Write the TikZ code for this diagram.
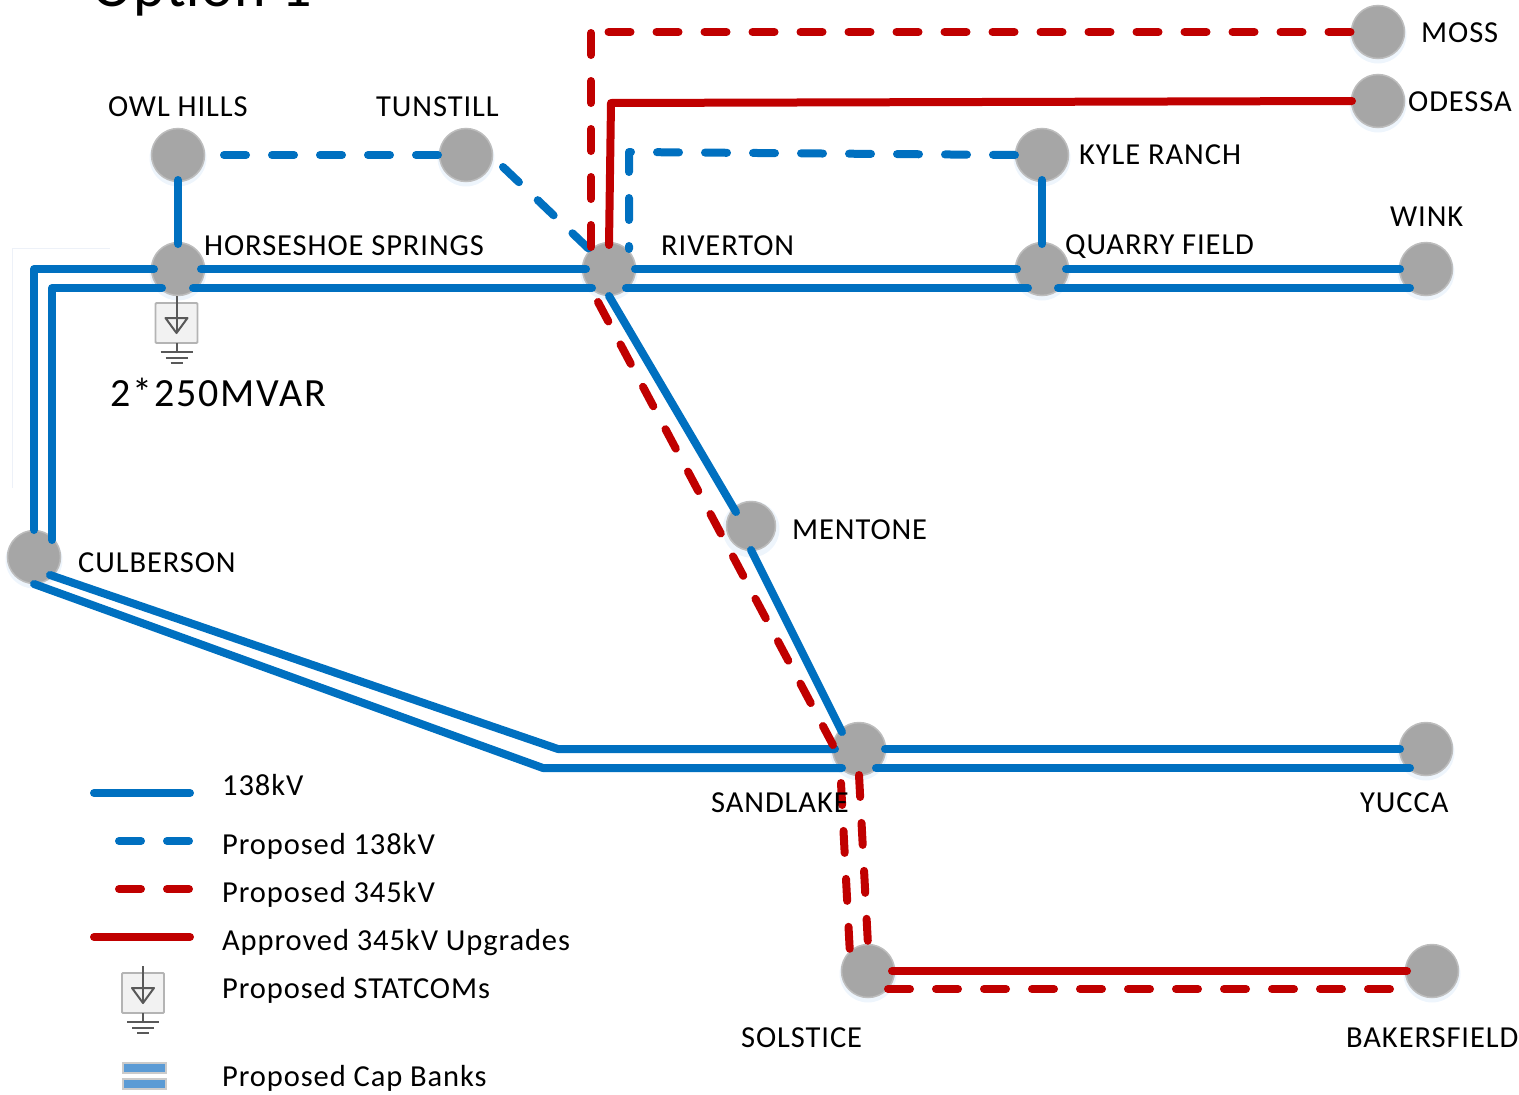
\documentclass[tikz,border=0pt]{standalone}
\usepackage{fontspec}
\setmainfont[LetterSpace=3]{Carlito}
\newfontfamily\titlefont[LetterSpace=2.7]{Carlito}
\newfontfamily\mvarfont[LetterSpace=4.6]{Carlito}
\usetikzlibrary{calc}
\definecolor{lblue}{HTML}{0070C0}
\definecolor{lred}{HTML}{C00000}
\definecolor{busgray}{HTML}{A6A6A6}
\definecolor{busedge}{HTML}{BDBDBD}
\definecolor{glow}{HTML}{EEF5FC}
\definecolor{iconline}{HTML}{595959}
\definecolor{iconedge}{HTML}{B4B4B4}
\definecolor{capfill}{HTML}{5B9BD5}
\definecolor{faint}{HTML}{EDF1F8}
\tikzset{
  bus/.style={circle,fill=busgray,draw=busedge,line width=1.5pt,minimum size=53pt,inner sep=0pt},
  halo/.style={fill=glow,draw=none},
  lbl/.style={anchor=base west,inner sep=0pt,font=\fontsize{30.5}{36}\selectfont,text=black},
  blueline/.style={draw=lblue,line width=8pt,line cap=round,line join=round},
  redline/.style={draw=lred,line width=8pt,line cap=round,line join=round},
  bluedash/.style={blueline,dash pattern=on 22pt off 26pt},
  reddash/.style={redline,dash pattern=on 22pt off 26pt},
  statcom/.pic={
    \path[fill=white!95!black,draw=iconedge,line width=1.8pt,rounded corners=1pt] (-21,-17) rectangle (21,23);
    \draw[iconline,line width=2pt] (0,-24) -- (0,13);
    \draw[iconline,line width=2pt,line join=round] (-11,-2) -- (11,-2) -- (0,13) -- cycle;
    \draw[iconline,line width=2pt] (0,23) -- (0,32);
    \draw[iconline,line width=2pt] (-16,32) -- (16,32) (-11,38) -- (11,38) (-6,43) -- (6,43);
  }
}
\begin{document}
\begin{tikzpicture}[x=1pt,y=-1pt]
\useasboundingbox (0,0) rectangle (1519,1095);
\clip (0,0) rectangle (1519,1095);
% faint frame
\draw[faint,line width=1pt] (110,248) -- (12,248) -- (12,488);
% halos
\foreach \x/\y in {178/155,466/155,178/269,609/269,1042/155,1042/269,1426/269,1378/32,1378/101,751/526,34/557,859/749,1426/749,868/971,1432/971}
  \fill[halo] (\x,\y+3) circle (28.5);
% buses
\node[bus] (owl) at (178,155) {};
\node[bus] (tun) at (466,155) {};
\node[bus] (hor) at (178,269) {};
\node[bus] (riv) at (609,269) {};
\node[bus] (kyl) at (1042,155) {};
\node[bus] (qua) at (1042,269) {};
\node[bus] (win) at (1426,269) {};
\node[bus] (mos) at (1378,32) {};
\node[bus] (ode) at (1378,101) {};
\node[bus,minimum size=49pt] (men) at (751,526) {};
\node[bus] (cul) at (34,557) {};
\node[bus] (san) at (859,749) {};
\node[bus] (yuc) at (1426,749) {};
\node[bus] (sol) at (868,971) {};
\node[bus] (bak) at (1432,971) {};
% 138 kV
\draw[blueline] ($(owl)+(0,25)$) -- ($(hor)+(0,-25)$);
\draw[blueline] ($(hor)+(23,0)$) -- ($(riv)+(-23,0)$);
\draw[blueline] ($(hor)+(15,19)$) -- ($(riv)+(-17,19)$);
\draw[blueline] ($(hor)+(-24,0)$) -- (34,269) -- ($(cul)+(0,-27)$);
\draw[blueline] ($(hor)+(-16,19)$) -- (52,288) -- ($(cul)+(18,-17)$);
\draw[blueline] ($(riv)+(26,0)$) -- ($(qua)+(-25,0)$);
\draw[blueline] ($(riv)+(17,19)$) -- ($(qua)+(-14,19)$);
\draw[blueline] ($(qua)+(24,0)$) -- ($(win)+(-26,0)$);
\draw[blueline] ($(qua)+(16,19)$) -- ($(win)+(-16,19)$);
\draw[blueline] ($(kyl)+(0,25)$) -- ($(qua)+(0,-25)$);
\draw[blueline] ($(riv)+(0,27)$) -- ($(men)+(-15,-14)$);
\draw[blueline] ($(men)+(0,24)$) -- ($(san)+(-17,-17)$);
\draw[blueline] ($(cul)+(16,18)$) -- (558,749) -- ($(san)+(-24,0)$);
\draw[blueline] ($(cul)+(0,27)$) -- (543,768) -- ($(san)+(-17,19)$);
\draw[blueline] ($(san)+(26,0)$) -- ($(yuc)+(-26,0)$);
\draw[blueline] ($(san)+(17,19)$) -- ($(yuc)+(-16,19)$);
% proposed 138 kV
\draw[bluedash] ($(owl)+(46,0)$) -- ($(tun)+(-26,0)$);
\draw[bluedash] ($(tun)+(37,12)$) -- ($(riv)+(-19,-19)$);
\draw[bluedash] ($(kyl)+(-27,0)$) -- (629,152) -- ($(riv)+(20,-20)$);
% approved 345 kV
\draw[redline] ($(ode)+(-26,0)$) -- (611,103) -- ($(riv)+(0,-24)$);
\draw[redline] ($(sol)+(24,0)$) -- ($(bak)+(-25,0)$);
% proposed 345 kV
\coordinate (mcorner) at (607.5,32);
\coordinate (vcorner) at (591,33);
\draw[reddash] ($(mos)+(-27.5,0)$) -- (mcorner);
\draw[reddash] (vcorner) -- ($(riv)+(-18,-21)$);
\draw[reddash] ($(riv)+(-11,33)$) -- ($(san)+(-26,-4)$);
\draw[reddash] ($(san)+(0,26)$) -- ($(sol)+(0,-26)$);
\draw[reddash] ($(san)+(-18,34)$) -- ($(sol)+(-18,-16)$);
\draw[reddash] ($(sol)+(20,18)$) -- ($(bak)+(-37,18)$);
% STATCOM at Horseshoe Springs
\pic at (176.5,320) {statcom};
% labels
\node[lbl,font=\fontsize{60}{70}\selectfont\titlefont] (title) at (92,6) {Option 1};
\node[lbl] (lowl) at (108,116) {OWL HILLS};
\node[lbl] (ltun) at (376,116) {TUNSTILL};
\node[lbl] (lhor) at (204,255) {HORSESHOE SPRINGS};
\node[lbl] (lriv) at (661,255) {RIVERTON};
\node[lbl] (lkyl) at (1079,164) {KYLE RANCH};
\node[lbl] (lqua) at (1065,254) {QUARRY FIELD};
\node[lbl] (lwin) at (1390,226) {WINK};
\node[lbl] (lmos) at (1421,42) {MOSS};
\node[lbl] (lode) at (1408,111) {ODESSA};
\node[lbl] (lmen) at (792,539) {MENTONE};
\node[lbl] (lcul) at (78,572) {CULBERSON};
\node[lbl] (lsan) at (711,812) {SANDLAKE};
\node[lbl] (lyuc) at (1360,812) {YUCCA};
\node[lbl] (lsol) at (741,1047) {SOLSTICE};
\node[lbl] (lbak) at (1346,1047) {BAKERSFIELD};
\node[lbl,font=\fontsize{40}{46}\selectfont\mvarfont] (mvar) at (110,406) {2*250MVAR};
% legend
\coordinate (k1a) at (94,793); \coordinate (k1b) at (190,793);
\coordinate (k2a) at (119,841); \coordinate (k2b) at (190,841);
\coordinate (k3a) at (119,889); \coordinate (k3b) at (190,889);
\coordinate (k4a) at (94,937); \coordinate (k4b) at (190,937);
\draw[blueline] (k1a) -- (k1b);
\draw[bluedash] (k2a) -- (k2b);
\draw[reddash] (k3a) -- (k3b);
\draw[redline] (k4a) -- (k4b);
\pic at (143,990) {statcom};
\path[fill=capfill,draw=iconedge!70,line width=1.2pt] (123,1063) rectangle (166,1073);
\path[fill=capfill,draw=iconedge!70,line width=1.2pt] (123,1079) rectangle (166,1089);
\node[lbl] (t1) at (222,795) {138kV};
\node[lbl] (t2) at (222,854) {Proposed 138kV};
\node[lbl] (t3) at (222,902) {Proposed 345kV};
\node[lbl] (t4) at (222,950) {Approved 345kV Upgrades};
\node[lbl] (t5) at (222,998) {Proposed STATCOMs};
\node[lbl] (t6) at (222,1086) {Proposed Cap Banks};
\end{tikzpicture}
\end{document}
